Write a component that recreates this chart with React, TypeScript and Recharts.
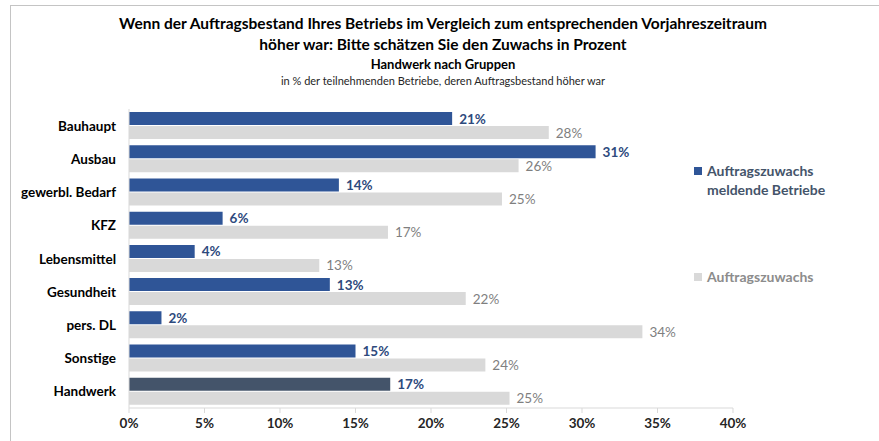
import React from 'react';
import { BarChart, Bar, XAxis, YAxis, Cell, LabelList } from 'recharts';

const categories = ['Bauhaupt', 'Ausbau', 'gewerbl. Bedarf', 'KFZ', 'Lebensmittel', 'Gesundheit', 'pers. DL', 'Sonstige', 'Handwerk'];
const meldendeBetriebe = [21.4, 30.9, 13.9, 6.2, 4.35, 13.3, 2.15, 15.0, 17.3];
const auftragszuwachs = [27.8, 25.8, 24.7, 17.15, 12.6, 22.3, 34.0, 23.6, 25.2];
const xTicks = [0, 5, 10, 15, 20, 25, 30, 35, 40];
const bandTicks = [0, 1, 2, 3, 4, 5, 6, 7, 8, 9];
const seriesNames = ['Auftragszuwachs meldende Betriebe', 'Auftragszuwachs'];
const titleLines = [
  'Wenn der Auftragsbestand Ihres Betriebs im Vergleich zum entsprechenden Vorjahreszeitraum',
  'höher war: Bitte schätzen Sie den Zuwachs in Prozent',
];
const subTitle = 'Handwerk nach Gruppen';
const note = 'in % der teilnehmenden Betriebe, deren Auftragsbestand höher war';

const FONT = "Lato, 'Open Sans', sans-serif";
const BLUE = '#2F5597';
const SLATE = '#44546A';
const GRAY = '#D9D9D9';

const data = categories.map((name, i) => ({
  name,
  meldend: meldendeBetriebe[i],
  zuwachs: auftragszuwachs[i],
}));

const pct = (v: number) => `${Math.round(v)}%`;

const makeLabel = (color: string, weight: string | number) => (props: any) => {
  const { x, y, width, height, value } = props;
  return (
    <text
      x={Number(x) + Number(width) + 7}
      y={Number(y) + Number(height) / 2}
      dominantBaseline="central"
      fontFamily={FONT}
      fontSize={13.5}
      fontWeight={weight}
      fill={color}
    >
      {pct(Number(value))}
    </text>
  );
};

const CatTick = (props: any) => {
  const { x, y, payload } = props;
  return (
    <text x={x} y={y} textAnchor="end" dominantBaseline="central" fontFamily={FONT} fontSize={13.5} fontWeight="bold" fill="#000">
      {payload.value}
    </text>
  );
};

const XTick = (props: any) => {
  const { x, y, payload } = props;
  return (
    <text x={x} y={y} textAnchor="middle" dominantBaseline="hanging" fontFamily={FONT} fontSize={13.5} fontWeight="bold" fill="#262626">
      {`${payload.value}%`}
    </text>
  );
};

const legendItems = [
  { name: seriesNames[0], color: BLUE, text: SLATE, top: 161 },
  { name: seriesNames[1], color: GRAY, text: '#8C8C8C', top: 267 },
];

export default function App() {
  return (
    <div style={{ position: 'fixed', left: 0, top: 0, width: 879, height: 441, overflow: 'hidden', background: '#fff' }}>
      <div style={{ position: 'absolute', left: 10, top: 5, width: 900, height: 500, border: '1px solid #c4c4c4' }} />
      <div style={{ position: 'absolute', left: 0, width: 886, top: 13, textAlign: 'center', fontFamily: FONT, fontWeight: 'bold', color: '#000' }}>
        <div style={{ fontSize: 15.5, lineHeight: '21px' }}>{titleLines[0]}</div>
        <div style={{ fontSize: 15.5, lineHeight: '21px' }}>{titleLines[1]}</div>
        <div style={{ fontSize: 13, lineHeight: '17px', marginTop: 1 }}>{subTitle}</div>
        <div style={{ fontSize: 11, lineHeight: '15px', fontWeight: 'normal', color: '#262626' }}>{note}</div>
      </div>
      {legendItems.map((it) => (
        <div key={it.name} style={{ position: 'absolute', left: 694, top: it.top, display: 'flex', alignItems: 'flex-start', fontFamily: FONT }}>
          <div style={{ width: 8, height: 8, background: it.color, marginTop: 6, marginRight: 5 }} />
          <div style={{ width: 140, fontSize: 14, fontWeight: 'bold', color: it.text, lineHeight: '19px' }}>{it.name}</div>
        </div>
      ))}
      <div style={{ position: 'absolute', left: 0, top: 0 }}>
        <BarChart
          width={879}
          height={441}
          data={data}
          layout="vertical"
          margin={{ top: 109, right: 146, bottom: 3, left: 10 }}
          barSize={13}
          barGap={1}
        >
          <XAxis
            type="number"
            domain={[0, 40]}
            ticks={xTicks}
            interval={0}
            height={30}
            stroke="#d9d9d9"
            tickSize={5}
            tickMargin={5}
            tick={<XTick />}
          />
          <YAxis
            yAxisId="cat"
            type="category"
            dataKey="name"
            width={118}
            axisLine={false}
            tickLine={false}
            tickSize={0}
            tickMargin={12}
            interval={0}
            tick={<CatTick />}
          />
          <YAxis
            yAxisId="band"
            type="number"
            domain={[0, 9]}
            ticks={bandTicks}
            interval={0}
            width={1}
            allowDataOverflow
            stroke="#d9d9d9"
            tickSize={5}
            tick={false}
          />
          <Bar yAxisId="cat" dataKey="meldend" name={seriesNames[0]} fill={BLUE} isAnimationActive={false}>
            {data.map((d, i) => (
              <Cell key={d.name} fill={i === data.length - 1 ? SLATE : BLUE} />
            ))}
            <LabelList dataKey="meldend" content={makeLabel('#2E4A7D', 'bold')} />
          </Bar>
          <Bar yAxisId="cat" dataKey="zuwachs" name={seriesNames[1]} fill={GRAY} isAnimationActive={false}>
            <LabelList dataKey="zuwachs" content={makeLabel('#7F7F7F', 'normal')} />
          </Bar>
        </BarChart>
      </div>
    </div>
  );
}
